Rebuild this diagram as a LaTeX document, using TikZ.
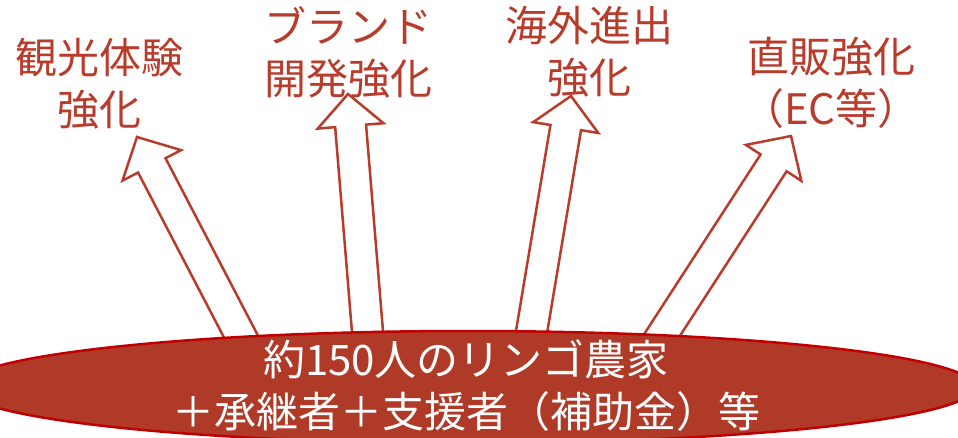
\documentclass[tikz,border=0pt]{standalone}
\usepackage{fontspec}
\setmainfont{Noto Sans CJK JP}
\usetikzlibrary{calc}
\definecolor{arrowred}{RGB}{184,60,44}
\definecolor{ellfill}{RGB}{176,58,40}
\definecolor{ellborder}{RGB}{192,0,0}
\tikzset{
  blockarrow/.style={draw=arrowred, fill=white, line width=2.5pt, line join=miter},
  goal/.style={text=arrowred, align=center, inner sep=0pt, font=\fontsize{42}{52}\selectfont},
  basetext/.style={text=white, align=center, inner sep=0pt, font=\fontsize{42}{52}\selectfont},
  farmers/.style={draw=ellborder, fill=ellfill, line width=2.5pt}
}
\newcommand\mkblockarrow[2]{%
  \path ($(#2)!32pt!(#1)$) coordinate (#2-h);
  \draw[blockarrow]
    ($(#1)!15.5pt!90:(#2)$) --
    ($(#2-h)!15.5pt!-90:(#1)$) --
    ($(#2-h)!33pt!-90:(#1)$) --
    (#2) --
    ($(#2-h)!33pt!90:(#1)$) --
    ($(#2-h)!15.5pt!90:(#1)$) --
    ($(#1)!15.5pt!-90:(#2)$) -- cycle;
}
\begin{document}
\begin{tikzpicture}[x=1pt,y=-1pt]
\useasboundingbox (0,0) rectangle (958,437);
% labels
\node[goal] (g1) at (99,84) {観光体験\\強化};
\node[goal] (g2) at (348,52) {ブランド\\開発強化};
\node[goal] (g3) at (589,52) {海外進出\\強化};
\node[goal] (g4) at (831,83) {直販強化\\（EC等）};
% arrows
\coordinate (a1b) at (248,350);   \coordinate (a1t) at (137,137);
\coordinate (a2b) at (369,350);   \coordinate (a2t) at (348,94);
\coordinate (a3b) at (528.5,350); \coordinate (a3t) at (571,96);
\coordinate (a4b) at (651,352);   \coordinate (a4t) at (791,136);
\mkblockarrow{a1b}{a1t}
\mkblockarrow{a2b}{a2t}
\mkblockarrow{a3b}{a3t}
\mkblockarrow{a4b}{a4t}
% base ellipse
\draw[farmers] (468,387) ellipse [x radius=507, y radius=56];
\node[basetext] (base) at (466,386) {約150人のリンゴ農家\\＋承継者＋支援者（補助金）等};
\end{tikzpicture}
\end{document}
